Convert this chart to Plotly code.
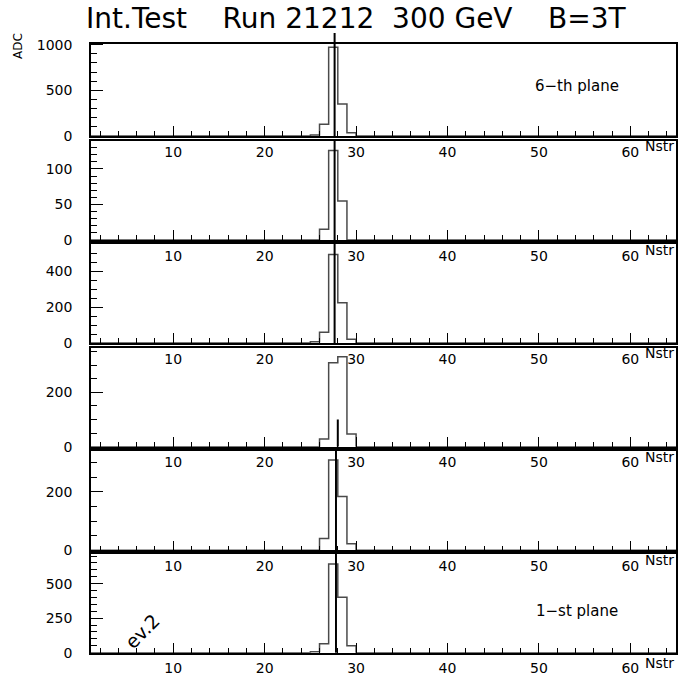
import plotly.graph_objects as go
from plotly.subplots import make_subplots

# ---------------- data ----------------
strips = [25, 26, 27, 28, 29]          # lower edge of the fired strips
plane_labels = ["6\u2212th plane", "", "", "", "", "1\u2212st plane"]
adc_plane6 = [11, 128, 971, 350, 36]
adc_plane5 = [0, 15, 126, 55, 0]
adc_plane4 = [7, 60, 495, 225, 21]
adc_plane3 = [0, 28, 309, 331, 47]
adc_plane2 = [0, 40, 309, 184, 22]
adc_plane1 = [7, 65, 643, 401, 50]
panels = [adc_plane6, adc_plane5, adc_plane4, adc_plane3, adc_plane2, adc_plane1]
center_x = [27.65, 27.65, 27.65, 28.0, 27.8, 27.8]
center_h = [None, None, None, 100, None, None]   # None -> through whole panel
y_max = [1012, 140, 553, 365, 340, 715]
y_major = [500, 50, 200, 200, 200, 250]
y_minor = [100, 10, 50, 50, 50, 50]
n_strips = 64
x_first = 1
x_ticks = [10, 20, 30, 40, 50, 60]

# ---------------- layout constants (pixels) ----------------
W, H = 679, 678
L, R = 91, 3
panel_px = [(43.5, 136), (140.5, 240), (244, 343), (347.5, 446.7), (451, 550.3), (554, 652.7)]

def py(p):
    return 1 - p / H

def px(p):
    return (p - L) / (W - L - R)

fig = make_subplots(rows=6, cols=1)

edges = list(range(x_first, x_first + n_strips + 1))
for i, vals in enumerate(panels):
    counts = [0] * n_strips
    for s, v in zip(strips, vals):
        counts[s - x_first] = v
    ys = counts + [counts[-1]]
    fig.add_trace(go.Scatter(x=edges, y=ys, mode="lines", line=dict(color="#4a4a4a", width=1.5, shape="hv"),
                             showlegend=False, hoverinfo="skip"), row=i + 1, col=1)

font_tick = dict(family="DejaVu Sans", size=14, color="black")
for i in range(6):
    n = "" if i == 0 else str(i + 1)
    top, bot = panel_px[i]
    fig.update_layout(**{
        "xaxis" + n: dict(range=[x_first, x_first + n_strips], tickmode="array", tickvals=x_ticks,
                          ticks="inside", ticklen=10, tickwidth=1, tickcolor="black",
                          minor=dict(dtick=2, tick0=0, ticks="inside", ticklen=5, tickcolor="black"),
                          showline=True, mirror=True, linecolor="black", linewidth=1.5,
                          showgrid=False, zeroline=False, tickfont=font_tick, ticklabelstandoff=2),
        "yaxis" + n: dict(domain=[py(bot), py(top)], range=[0, y_max[i]], tick0=0, dtick=y_major[i],
                          ticks="inside", ticklen=12, tickwidth=1, tickcolor="black",
                          minor=dict(dtick=y_minor[i], tick0=0, ticks="inside", ticklen=6, tickcolor="black"),
                          showline=True, mirror=True, linecolor="black", linewidth=1.5,
                          showgrid=False, zeroline=False, tickfont=font_tick, ticklabelstandoff=14),
    })
    yref_dom = "y" + n + " domain"
    if i == 0:
        fig.add_shape(type="line", xref="x" + n, yref="paper", x0=center_x[i], x1=center_x[i],
                      y0=py(bot), y1=py(33), line=dict(color="black", width=2))
    elif center_h[i] is None:
        fig.add_shape(type="line", xref="x" + n, yref=yref_dom, x0=center_x[i], x1=center_x[i],
                      y0=0, y1=1, line=dict(color="black", width=2))
    else:
        fig.add_shape(type="line", xref="x" + n, yref="y" + n, x0=center_x[i], x1=center_x[i],
                      y0=0, y1=center_h[i], line=dict(color="black", width=2))
    fig.add_annotation(text="Nstr", xref="paper", x=1.0, xanchor="right", yref=yref_dom, y=0,
                       yanchor="top", yshift=0, showarrow=False,
                       font=dict(family="DejaVu Sans", size=14, color="black"))

fig.add_annotation(text=plane_labels[0], xref="x", yref="y", x=54.2, y=547, showarrow=False,
                   font=dict(family="DejaVu Sans", size=15, color="black"))
fig.add_annotation(text=plane_labels[5], xref="x6", yref="y6", x=54.2, y=302, showarrow=False,
                   font=dict(family="DejaVu Sans", size=15, color="black"))
fig.add_annotation(text="ev.2", xref="x6", yref="y6", x=6.6, y=160, showarrow=False, textangle=-45,
                   font=dict(family="DejaVu Sans", size=19, color="black"))
fig.add_annotation(text="ADC", xref="paper", yref="paper", x=px(18), y=py(46), xanchor="center",
                   yanchor="middle", showarrow=False, textangle=-90,
                   font=dict(family="DejaVu Sans", size=12, color="black"))
fig.add_annotation(text="Int.Test\u00a0\u00a0\u00a0\u00a0Run 21212\u00a0\u00a0300 GeV\u00a0\u00a0\u00a0\u00a0B=3T",
                   xref="paper", yref="paper", x=px(84), xanchor="left", y=py(18), yanchor="middle",
                   showarrow=False, font=dict(family="DejaVu Sans", size=28, color="black"))

fig.update_layout(width=W, height=H, margin=dict(l=L, r=R, t=0, b=0, autoexpand=False),
                  plot_bgcolor="white", paper_bgcolor="white", showlegend=False)

fig.write_html("out.html")
